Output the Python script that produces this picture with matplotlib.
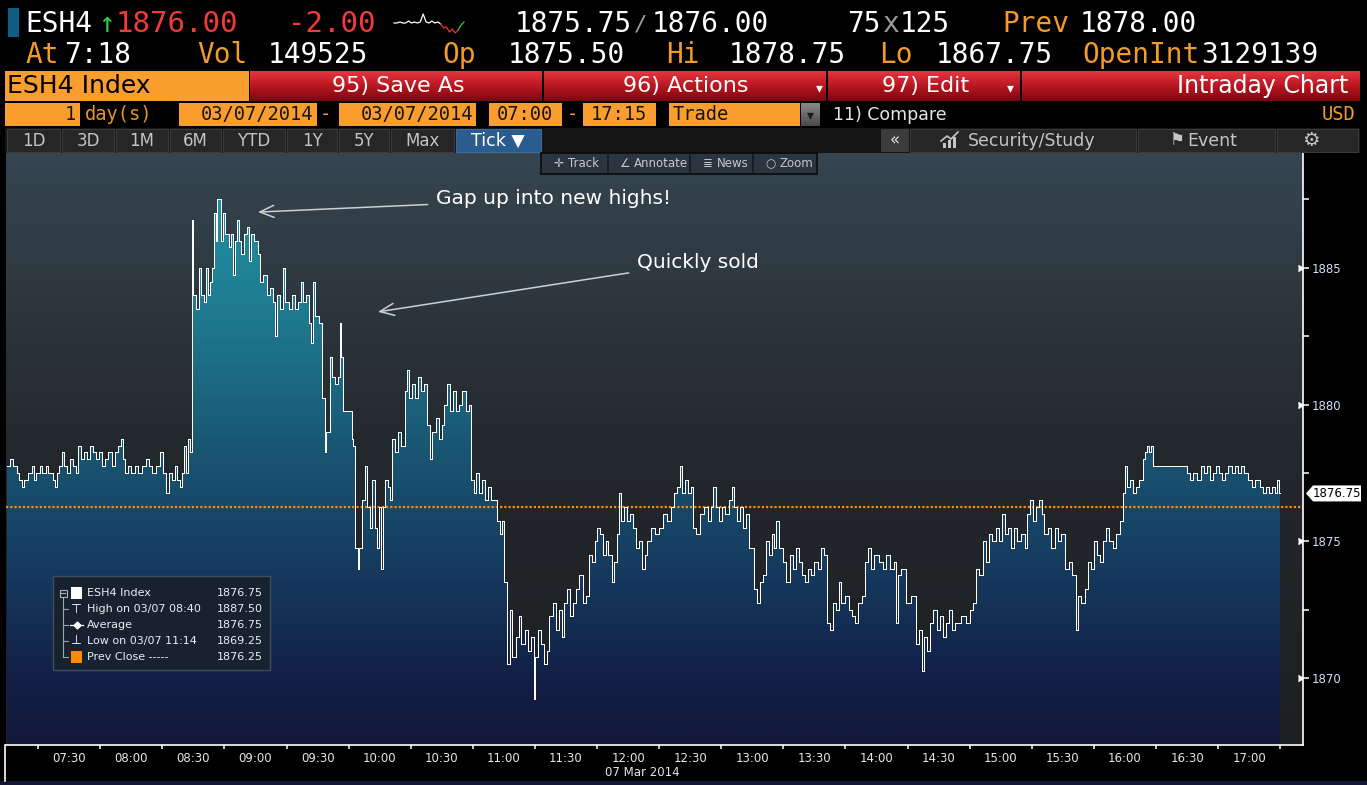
import matplotlib
matplotlib.use("Agg")
import matplotlib.pyplot as plt
import numpy as np
from matplotlib.colors import LinearSegmentedColormap
from matplotlib.patches import Rectangle, Polygon
from matplotlib.transforms import blended_transform_factory

W, H = 1367, 785

# ESH4 tick chart, 07 Mar 2014: minutes after 07:00 and traded price (step line)
seg_a_min = [0, 1.5, 3, 5, 6, 7, 8, 10, 12, 13, 14, 16, 17, 19, 20, 22, 23, 24, 25, 26.5,
             27.5, 29, 30.5, 32, 33.5, 34.5, 35.5, 37, 38.5, 40, 41.5, 43, 44.5, 46, 47.5, 49,
             50.5, 52, 53.5, 55, 56, 57, 58.5, 60, 62, 63.5, 65, 67, 68.5, 70, 72, 74, 75.5, 77,
             78, 79.5, 81, 82, 83.5, 84.5, 85.5, 86.5, 87.5, 88.5]
seg_a_px = [1877.75, 1878.0, 1877.75, 1877.5, 1877.25, 1877.0, 1877.25, 1877.5, 1877.75, 1877.25,
            1877.5, 1877.75, 1877.5, 1877.75, 1877.5, 1877.25, 1877.0, 1877.5, 1877.75, 1878.25,
            1877.75, 1877.5, 1878.0, 1877.75, 1877.5, 1878.5, 1878.0, 1878.25, 1878.0, 1878.5,
            1878.25, 1878.0, 1878.25, 1877.75, 1878.0, 1878.25, 1877.75, 1878.25, 1878.5, 1878.75,
            1878.0, 1877.5, 1877.75, 1877.5, 1877.75, 1877.5, 1877.75, 1878.0, 1877.75, 1877.5,
            1877.75, 1878.25, 1877.5, 1876.75, 1877.5, 1877.25, 1877.75, 1877.25, 1877.0, 1877.5,
            1878.5, 1877.5, 1878.75, 1878.25]

seg_b_min = [89.5, 90, 91.5, 92.5, 93.5, 95, 96, 97, 98, 99, 100, 101, 101.5, 103.5, 104.5, 105.5,
             107, 108, 109, 110, 111, 112, 113, 114.5, 116, 117, 118, 119.5, 121, 122, 123.5, 125.5,
             127, 128.5, 129.5, 130.5, 132, 133.5, 134.5, 136, 137.5, 139, 140.5, 142, 143, 144.5,
             146, 147, 148, 149, 150.5, 152, 153.5, 154, 156, 157, 158.5, 160, 161, 161.5, 162.5,
             166.5, 167, 168, 169.5]
seg_b_px = [1886.75, 1884.0, 1883.5, 1885.0, 1884.0, 1883.75, 1885.0, 1884.0, 1884.5, 1885.0,
            1887.0, 1886.0, 1887.5, 1886.0, 1887.0, 1886.25, 1885.75, 1886.25, 1884.75, 1886.0,
            1886.75, 1886.0, 1885.5, 1886.25, 1886.5, 1885.25, 1886.25, 1886.0, 1885.5, 1884.5,
            1884.75, 1884.0, 1884.25, 1883.75, 1882.5, 1884.0, 1883.5, 1885.0, 1883.75, 1883.5,
            1884.0, 1883.5, 1883.75, 1884.5, 1883.75, 1884.0, 1883.0, 1882.25, 1884.5, 1883.25,
            1883.0, 1880.25, 1878.25, 1879.0, 1881.75, 1881.0, 1880.75, 1881.0, 1883.0, 1881.75,
            1879.75, 1878.75, 1878.5, 1874.75, 1874.0]

seg_c_min = [170, 171.5, 173, 174, 175.5, 176.5, 177.5, 178.5, 179.5, 180.5, 181.5, 182.5, 184,
             185, 186, 187.5, 189, 190.5, 192, 193, 194, 195.5, 197, 198.5, 200, 201.5, 203, 204.5,
             205.5, 207, 208.5, 210, 211, 212.5, 214, 215.5, 217, 218.5, 220, 221.5, 223, 224,
             225.5, 226.5, 228, 229.5, 231, 232.5, 234, 236.5, 238, 239, 240, 241.5, 243, 244, 246,
             247.5, 248.5, 250, 251.5, 253, 254.5, 255, 256.5, 258, 259.5, 261, 262, 263.5, 265,
             266.5, 268, 269, 270.5, 272, 273.5, 275, 276.5, 278, 279.5, 281, 282.5, 284, 285,
             286.5, 288, 289.5, 290.5, 292, 293, 294.5, 295.5, 296.5, 298, 299.5, 301, 302.5, 304,
             305.5, 306.5, 308, 309, 311, 313, 315, 317, 319, 320.5, 322, 323.5, 325, 326, 327.5,
             329, 330.5, 331.5, 333, 334.5, 336.5, 338.5, 340, 341, 342.5, 344, 345.5, 347, 348.5]
seg_c_px = [1874.75, 1876.5, 1877.75, 1876.25, 1875.5, 1877.25, 1875.5, 1874.75, 1876.25, 1874.0,
            1876.25, 1877.25, 1877.0, 1876.5, 1878.75, 1878.25, 1879.0, 1878.5, 1880.5, 1881.25,
            1880.25, 1880.75, 1880.25, 1881.0, 1880.5, 1880.75, 1879.25, 1878.0, 1879.0, 1879.5,
            1878.75, 1879.25, 1880.0, 1880.75, 1879.75, 1880.5, 1879.75, 1880.0, 1880.5, 1879.75,
            1880.0, 1877.25, 1876.75, 1877.5, 1876.75, 1877.25, 1876.5, 1877.0, 1876.5, 1875.75,
            1875.25, 1875.75, 1873.5, 1870.5, 1872.5, 1870.75, 1871.5, 1872.25, 1871.25, 1871.75,
            1871.0, 1871.5, 1869.25, 1870.75, 1871.75, 1871.25, 1870.5, 1871.0, 1872.25, 1872.75,
            1871.75, 1872.5, 1871.5, 1872.75, 1873.25, 1872.25, 1872.75, 1873.25, 1873.75, 1872.75,
            1873.0, 1874.5, 1874.25, 1875.0, 1875.5, 1875.25, 1874.5, 1875.0, 1874.5, 1873.5,
            1874.25, 1875.25, 1876.75, 1875.75, 1876.25, 1875.75, 1876.0, 1875.5, 1874.75, 1875.0,
            1874.0, 1874.5, 1875.0, 1875.5, 1875.25, 1875.5, 1876.0, 1875.75, 1876.25, 1876.75,
            1877.0, 1877.75, 1876.75, 1877.25, 1876.75, 1877.0, 1875.5, 1875.25, 1876.0, 1876.25,
            1875.75, 1876.25, 1877.0, 1876.25, 1875.75, 1876.25, 1876.0, 1876.5]

seg_d_min = [350, 351, 352.5, 354, 355.5, 357, 358.5, 361, 362.5, 363.5, 365, 366.5, 368, 369.5,
             370.5, 371.5, 373, 375, 376.5, 378, 379.5, 381, 382.5, 384, 385.5, 387, 388.5, 390,
             391.5, 393, 394.5, 396, 397.5, 399, 400.5, 402, 403, 405, 406.5, 408, 409.5, 411, 413,
             414.5, 416, 417.5, 419, 421, 423, 424.5, 426.5, 428.5, 429.5, 430.5, 432, 434, 436.5,
             439, 440.5, 442, 443, 444.5, 446, 447.5, 449, 450.5, 452, 453.5, 455, 456.5, 458, 461,
             463, 465, 466.5, 468, 469.5, 471.5, 473, 474.5, 476, 477.5, 479, 480.5, 482, 483.5,
             485, 486.5, 488, 490, 491.5, 492.5, 494, 495.5, 497, 498.5, 500, 501, 503, 504.5, 506,
             507.5, 509, 511, 513, 514.5, 516.5, 517.5, 519, 520.5, 522, 523.5, 525, 526.5, 528,
             529.5, 531, 532.5, 534, 535.5, 537.5, 539, 540, 541, 542.5, 544, 545.5, 547, 548.5,
             549.5, 550.5, 551.5, 552.5, 553.5, 570, 571.5, 573, 575, 576.5, 578, 579.5, 581, 582.5,
             584, 585.5, 587, 588.5, 590, 591.5, 593, 594.5, 596, 597.5, 599.5, 601.5, 603, 605,
             606.5, 608, 609.5, 611, 612.5, 613.5, 614.5]
seg_d_px = [1877.0, 1876.25, 1875.75, 1876.25, 1875.5, 1876.0, 1874.75, 1873.25, 1872.75, 1873.5,
            1873.75, 1875.0, 1874.5, 1875.25, 1874.75, 1875.75, 1874.75, 1874.25, 1873.5, 1874.5,
            1874.0, 1874.75, 1874.25, 1873.75, 1873.5, 1874.0, 1873.75, 1874.25, 1874.0, 1874.75,
            1874.5, 1872.0, 1871.75, 1872.75, 1872.5, 1873.5, 1872.75, 1873.0, 1872.5, 1872.25,
            1872.0, 1872.75, 1873.0, 1874.25, 1874.75, 1874.0, 1874.5, 1874.25, 1874.0, 1874.5,
            1874.0, 1874.25, 1872.0, 1873.75, 1874.0, 1872.75, 1873.0, 1871.25, 1871.75, 1870.25,
            1871.5, 1871.0, 1872.0, 1872.5, 1871.75, 1872.25, 1871.5, 1872.0, 1872.5, 1871.75,
            1872.0, 1872.25, 1872.0, 1872.5, 1872.75, 1874.0, 1873.75, 1875.0, 1874.25, 1875.25,
            1875.0, 1875.5, 1875.0, 1876.0, 1875.25, 1875.5, 1874.75, 1875.5, 1875.0, 1875.25,
            1874.75, 1876.0, 1876.5, 1875.75, 1876.25, 1876.5, 1876.0, 1875.25, 1875.5, 1874.75,
            1875.5, 1875.0, 1875.25, 1874.0, 1874.25, 1873.75, 1871.75, 1873.0, 1872.75, 1873.25,
            1874.25, 1874.0, 1875.0, 1874.5, 1874.25, 1875.0, 1875.5, 1875.0, 1874.75, 1875.25,
            1875.75, 1876.75, 1877.75, 1877.0, 1877.25, 1876.75, 1877.0, 1877.25, 1878.0, 1878.25,
            1878.5, 1878.25, 1878.5, 1877.75, 1877.5, 1877.25, 1877.5, 1877.25, 1877.75, 1877.5,
            1877.75, 1877.25, 1877.5, 1877.75, 1877.5, 1877.25, 1877.5, 1877.75, 1877.5, 1877.75,
            1877.5, 1877.75, 1877.5, 1877.25, 1877.0, 1877.25, 1877.0, 1876.75, 1877.0, 1876.75,
            1877.0, 1876.75, 1877.25, 1876.75]
end_min = 615

prev_close = 1876.25
last_px = 1876.75
y_major = [1870, 1875, 1880, 1885]
y_minor = [1872.5, 1877.5, 1882.5, 1887.5]
x_labels = ["07:30", "08:00", "08:30", "09:00", "09:30", "10:00", "10:30", "11:00", "11:30",
            "12:00", "12:30", "13:00", "13:30", "14:00", "14:30", "15:00", "15:30", "16:00",
            "16:30", "17:00"]
spark_vals = [3, 3, 4, 3, 3, 5, 3, 4, 3, 4, 12, 4, 3, 5, 3, 4, 2, -2, -1, -6, -3, -7, -4, 1, 4]

legend_labels = ["ESH4 Index", "High on 03/07 08:40", "Average", "Low on 03/07 11:14",
                 "Prev Close -----"]
legend_values = ["1876.75", "1887.50", "1876.75", "1869.25", "1876.25"]

MONO = "DejaVu Sans Mono"
SANS = "DejaVu Sans"
ORANGE = "#f99e2e"
ORANGE_TXT = "#f29b26"
GRAD = np.linspace(0, 1, 256).reshape(-1, 1)

tick_min = seg_a_min + seg_b_min + seg_c_min + seg_d_min
tick_px = seg_a_px + seg_b_px + seg_c_px + seg_d_px

fig = plt.figure(figsize=(W / 100, H / 100), dpi=100, facecolor="black")

# ---- price chart ----
ax = fig.add_axes([6 / W, (H - 745) / H, (1303 - 6) / W, (745 - 153) / H])
ax.set_xlim(-0.5, 626)
ax.set_ylim(1867.55, 1889.2)
x0, x1 = ax.get_xlim()
y0, y1 = ax.get_ylim()

bg_cmap = LinearSegmentedColormap.from_list(
    "bg", [(0, "#1e1f21"), (0.5, "#23282d"), (1, "#364550")])
ax.imshow(GRAD, extent=[x0, x1, y0, y1], origin="lower", cmap=bg_cmap,
          aspect="auto", zorder=0)

t = np.array(tick_min + [end_min], dtype=float)
p = np.array(tick_px, dtype=float)
xs = np.repeat(t, 2)[1:-1]
ys = np.repeat(p, 2)

area = Polygon(np.column_stack([np.r_[xs[0], xs, xs[-1]], np.r_[y0, ys, y0]]),
               closed=True, facecolor="none", edgecolor="none")
ax.add_patch(area)
fill_cmap = LinearSegmentedColormap.from_list(
    "fill", [(0, "#12183a"), (0.1, "#121e46"), (0.33, "#163f62"), (0.5, "#195672"),
             (0.73, "#1e7a90"), (1, "#2399aa")])
im = ax.imshow(GRAD, extent=[x0, x1, y0, y1], origin="lower", cmap=fill_cmap,
               aspect="auto", zorder=1)
im.set_clip_path(area)

ax.plot(xs, ys, color="white", lw=0.72, antialiased=False, zorder=3)
ax.axhline(prev_close, color="#ff8a00", lw=1.6, ls=(0, (1, 0.9)), zorder=2)
ax.set_xlim(x0, x1)
ax.set_ylim(y0, y1)

for side in ["top", "left"]:
    ax.spines[side].set_visible(False)
for side in ["right", "bottom"]:
    ax.spines[side].set_color("white")
    ax.spines[side].set_linewidth(1.2)

ax.yaxis.tick_right()
ax.set_yticks(y_major)
ax.set_yticklabels([str(v) for v in y_major])
ax.set_yticks(y_minor, minor=True)
ax.tick_params(axis="y", which="both", length=4, width=1.1, color="white",
               labelcolor="#cfe0f5", labelsize=8.5, pad=2.5)
ax.plot([1.0] * len(y_major), y_major, ls="none", marker=5, ms=5, color="white",
        transform=blended_transform_factory(ax.transAxes, ax.transData), clip_on=False)

ax.set_xticks(np.arange(15, 626, 30))
ax.set_xticklabels([])
ax.set_xticks(30 * (np.arange(len(x_labels)) + 1), minor=True)
ax.set_xticklabels(x_labels, minor=True)
ax.tick_params(axis="x", which="major", length=3, width=1.1, color="white", direction="out")
ax.tick_params(axis="x", which="minor", length=0, labelsize=8.5, labelcolor="#e6e6e6", pad=5)

arrow_style = dict(arrowstyle="->,head_length=0.7,head_width=0.3", color="#cfcfcf",
                   lw=1.1, shrinkA=4, shrinkB=0)
ax.annotate("Gap up into new highs!", xy=(121.2, 1887.04), xytext=(207.2, 1887.52),
            color="white", fontsize=14.5, family=SANS, ha="left", va="center",
            arrowprops=arrow_style, zorder=6)
ax.annotate("Quickly sold", xy=(179.2, 1883.39), xytext=(304.3, 1885.21),
            color="white", fontsize=14.5, family=SANS, ha="left", va="center",
            arrowprops=arrow_style, zorder=6)

# ---- terminal chrome, drawn in pixel coordinates ----
ui = fig.add_axes([0, 0, 1, 1], zorder=5)
ui.set_xlim(0, W)
ui.set_ylim(H, 0)
ui.axis("off")


def box(xa, ya, xb, yb, face, edge="none", lw=0.0, z=1):
    ui.add_patch(Rectangle((xa, ya), xb - xa, yb - ya, facecolor=face, edgecolor=edge,
                           linewidth=lw, zorder=z))


def grad_box(xa, ya, xb, yb, cmap, z=1):
    ui.imshow(GRAD, extent=[xa, xb, yb, ya], origin="lower", cmap=cmap, aspect="auto", zorder=z)


def put(x, y, s, color="white", size=12, family=MONO, ha="left", **kw):
    ui.text(x, y, s, color=color, fontsize=size, family=family, ha=ha, va="center", **kw)


# row 1: quote line
box(8, 8, 19, 37, "#0f5d85")
put(25, 24, "ESH4", size=20)
put(98, 24, "↑", color="#2ecc40", size=20)
put(116, 24, "1876.00", color="#f23a3a", size=21)
put(288, 24, "-2.00", color="#f23a3a", size=21)
sv = np.array(spark_vals, dtype=float)
sx = np.linspace(394, 464, len(sv))
sy = 33 - (sv - sv.min()) / (sv.max() - sv.min()) * 19
ui.plot(sx[:17], sy[:17], color="white", lw=0.9)
ui.plot(sx[16:23], sy[16:23], color="#e83030", lw=0.9)
ui.plot(sx[22:], sy[22:], color="#2ecc40", lw=0.9)
put(515, 24, "1875.75", size=20)
put(634, 24, "/", color="#9a9a9a", size=16)
put(652, 24, "1876.00", size=20)
put(847, 24, "75", size=20)
put(883, 24, "x", color="#9a9a9a", size=20)
put(900, 24, "125", size=20)
put(1002, 24, "Prev", color=ORANGE_TXT, size=20)
put(1080, 24, "1878.00", size=20)

# row 2
for xx, s, c in [(25, "At", ORANGE_TXT), (64, "7:18", "white"), (197, "Vol", ORANGE_TXT),
                 (268, "149525", "white"), (442, "Op", ORANGE_TXT), (508, "1875.50", "white"),
                 (666, "Hi", ORANGE_TXT), (729, "1878.75", "white"), (879, "Lo", ORANGE_TXT),
                 (936, "1867.75", "white"), (1082, "OpenInt", ORANGE_TXT),
                 (1201, "3129139", "white")]:
    put(xx, 55, s, color=c, size=20)

# row 3: title bar
red_cmap = LinearSegmentedColormap.from_list(
    "red", [(0, "#7a0810"), (0.45, "#b3141e"), (1, "#e8363f")])
box(5, 71, 249, 101, ORANGE)
put(7, 86, "ESH4 Index", color="black", size=18, family=SANS)
for xa, xb in [(250, 542), (544, 826), (828, 1020), (1022, 1360)]:
    grad_box(xa, 71, xb, 101, red_cmap)
put(398, 86, "95) Save As", size=16, family=SANS, ha="center")
put(686, 86, "96) Actions", size=16, family=SANS, ha="center")
put(819, 88, "▾", size=10, family=SANS, ha="center")
put(926, 86, "97) Edit", size=16, family=SANS, ha="center")
put(1010, 88, "▾", size=10, family=SANS, ha="center")
put(1348, 86, "Intraday Chart", size=17, family=SANS, ha="right")

# row 4: date range
box(5, 103, 80, 126, ORANGE)
put(76, 114.5, "1", color="#151515", size=13.5, ha="right")
put(85, 114.5, "day(s)", color="#e8961e", size=13.5)
box(179, 103, 317, 126, ORANGE)
put(313, 114.5, "03/07/2014", color="#151515", size=13.5, ha="right")
put(325, 114.5, "-", color=ORANGE_TXT, size=13.5, ha="center")
box(339, 103, 476, 126, ORANGE)
put(473, 114.5, "03/07/2014", color="#151515", size=13.5, ha="right")
box(489, 103, 562, 126, ORANGE)
put(525, 114.5, "07:00", color="#151515", size=13.5, ha="center")
put(572, 114.5, "-", color=ORANGE_TXT, size=13.5, ha="center")
box(583, 103, 656, 126, ORANGE)
put(619, 114.5, "17:15", color="#151515", size=13.5, ha="center")
box(669, 103, 800, 126, ORANGE)
put(673, 114.5, "Trade", color="#151515", size=13.5)
grey_cmap = LinearSegmentedColormap.from_list("grey", ["#4a4a4a", "#8a8a8a"])
grad_box(801, 103, 820, 126, grey_cmap)
put(810.5, 115, "▾", color="#1a1a1a", size=10, family=SANS, ha="center")
put(833, 114.5, "11) Compare", color="#e6e6e6", size=12.5, family=SANS)
put(1355, 114.5, "USD", color=ORANGE_TXT, size=13.5, ha="right")

# row 5: period buttons
box(5, 128, 1360, 153, "#141414")
for lab, xa, xb in [("1D", 7, 60), ("3D", 62, 114), ("1M", 116, 168), ("6M", 170, 221),
                    ("YTD", 223, 285), ("1Y", 287, 337), ("5Y", 339, 389), ("Max", 391, 454)]:
    box(xa, 129, xb, 152, "#262626", edge="#3a3a3a", lw=0.8)
    put((xa + xb) / 2, 140.5, lab, color="#c4c4c4", size=12, family=SANS, ha="center")
box(456, 129, 541, 152, "#2b5c8f", edge="#3a6a9a", lw=0.8)
put(498, 140.5, "Tick ▼", size=12.5, family=SANS, ha="center")
box(881, 129, 909, 152, "#3c3c3c")
put(895, 140.5, "«", color="#e0e0e0", size=12, family=SANS, ha="center")
for xa, xb in [(910, 1136), (1138, 1275), (1277, 1358)]:
    box(xa, 129, xb, 152, "#262626", edge="#3a3a3a", lw=0.8)
for k, hgt in enumerate([5, 8, 11]):
    box(943 + k * 5, 148 - hgt, 946 + k * 5, 148, "#c4c4c4")
ui.plot([941, 947, 951, 958], [141, 136, 139, 132], color="#c4c4c4", lw=1.2)
put(968, 140.5, "Security/Study", color="#c4c4c4", size=12.5, family=SANS)
put(1169, 140.5, "⚑", color="#c4c4c4", size=12, family=SANS)
put(1187, 140.5, "Event", color="#c4c4c4", size=12.5, family=SANS)
put(1311, 140.5, "⚙", color="#c4c4c4", size=14, family=SANS, ha="center")

# chart toolbar
box(541, 153, 817, 174, "#2b3540", edge="#0a0a0a", lw=1.2, z=2)
for xx in [608, 690, 753]:
    ui.plot([xx, xx], [154, 173], color="#141a20", lw=1.2, zorder=3)
for xx, s in [(553, "✛"), (568, "Track"), (620, "∠"), (634, "Annotate"), (703, "≣"),
              (717, "News"), (765, "○"), (780, "Zoom")]:
    put(xx, 163.5, s, color="#c8c8c8", size=8.5, family=SANS, zorder=4)

# axis strip details
ui.plot([5, 5], [745, 781], color="white", lw=1.2)
box(0, 781, W, 785, "#111634")
put(642, 772, "07 Mar 2014", color="#e6e6e6", size=8.5, family=SANS, ha="center")

# last price tag
tag_y = H - ax.transData.transform((0, last_px))[1]
ui.add_patch(Polygon([(1306, tag_y), (1313, tag_y - 8), (1361, tag_y - 8),
                      (1361, tag_y + 8), (1313, tag_y + 8)], closed=True,
                     facecolor="white", edgecolor="none", zorder=3))
put(1337, tag_y, f"{last_px:.2f}", color="black", size=8.5, family=SANS, ha="center", zorder=4)

# legend panel
box(53, 576, 270, 670, "#18212f", edge="#414c5a", lw=1.0, z=2)
row_y = [593 + 16 * i for i in range(len(legend_labels))]
ui.plot([63, 63], [598, row_y[-1]], color="#9aa4ae", lw=0.8, zorder=3)
for yy in row_y[1:]:
    ui.plot([63, 68], [yy, yy], color="#9aa4ae", lw=0.8, zorder=3)
box(59.5, 589.5, 66.5, 596.5, "none", edge="#aab2ba", lw=0.8, z=3)
ui.plot([61, 65], [593, 593], color="#aab2ba", lw=0.8, zorder=3)
box(71, 587, 82, 599, "white", z=3)
put(76.5, row_y[1], "⊤", size=9, family=SANS, ha="center", zorder=3)
ui.plot([70, 83], [row_y[2], row_y[2]], color="white", lw=0.9, zorder=3)
ui.plot([76.5], [row_y[2]], marker="D", ms=3.5, color="white", zorder=4)
put(76.5, row_y[3], "⊥", size=9, family=SANS, ha="center", zorder=3)
box(71, row_y[4] - 6, 82, row_y[4] + 6, "#ff8c00", z=3)
for yy, lab, val in zip(row_y, legend_labels, legend_values):
    put(87, yy, lab, color="#e8eef4", size=8, family=SANS, zorder=4)
    put(263, yy, val, color="#e8eef4", size=8, family=SANS, ha="right", zorder=4)

ui.set_xlim(0, W)
ui.set_ylim(H, 0)

fig.savefig("out.png", dpi=100, facecolor="black")
